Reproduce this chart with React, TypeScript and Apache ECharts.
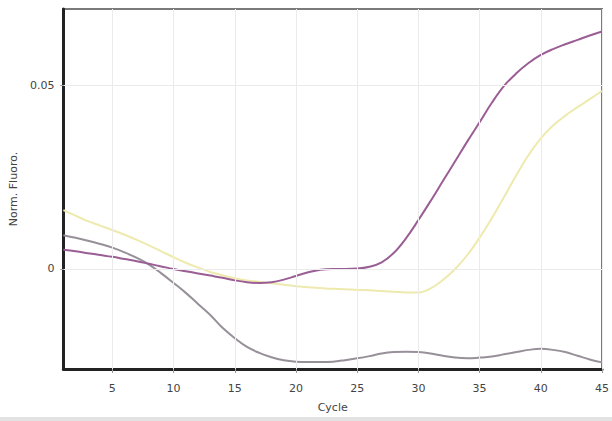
import React, { useEffect, useRef } from "react";
import * as echarts from "echarts";

const cycles: number[] = Array.from({ length: 45 }, (_, i) => i + 1);

const purpleSeries: number[] = [
  0.0052, 0.0048, 0.0043, 0.0038, 0.0033, 0.0027, 0.0021, 0.0014, 0.0007, 0.0,
  -0.0006, -0.0012, -0.0018, -0.0024, -0.0031, -0.0036, -0.0038, -0.0036, -0.0029, -0.0019,
  -0.0009, -0.0002, 0.0, 0.0, 0.0001, 0.0006, 0.0018, 0.0044, 0.0084, 0.0133,
  0.0185, 0.0239, 0.0293, 0.0347, 0.0399, 0.0452, 0.0498, 0.0532, 0.0560, 0.0582,
  0.0598, 0.0611, 0.0623, 0.0635, 0.0646,
];

const yellowSeries: number[] = [
  0.016, 0.0145, 0.013, 0.0118, 0.0106, 0.0093, 0.0079, 0.0064, 0.0048, 0.0032,
  0.0017, 0.0004, -0.0008, -0.0017, -0.0025, -0.0031, -0.0035, -0.0039, -0.0043, -0.0047,
  -0.005, -0.0052, -0.0054, -0.0055, -0.0057, -0.0058, -0.006, -0.0062, -0.0064, -0.0064,
  -0.0053, -0.003, 0.0, 0.0038, 0.0085, 0.0138, 0.0196, 0.0255, 0.031, 0.0355,
  0.039, 0.0417, 0.044, 0.0462, 0.0484,
];

const graySeries: number[] = [
  0.0092, 0.0085, 0.0077, 0.0068, 0.0058, 0.0045, 0.003, 0.0012, -0.0012, -0.0038,
  -0.0065, -0.0095, -0.0125, -0.016, -0.0188, -0.0212, -0.0228, -0.024, -0.0248, -0.0252,
  -0.0253, -0.0253, -0.0252, -0.0248, -0.0243, -0.0237, -0.023, -0.0226, -0.0225, -0.0226,
  -0.023, -0.0236, -0.0241, -0.0243, -0.0241, -0.0238, -0.0232, -0.0226, -0.022, -0.0217,
  -0.022, -0.0226, -0.0236, -0.0246, -0.0254,
];

const xTickValues: number[] = [5, 10, 15, 20, 25, 30, 35, 40, 45];
const yTickValues: number[] = [0, 0.05];
const yTickLabels: string[] = ["0", "0.05"];

export default function App() {
  const ref = useRef<HTMLDivElement>(null);

  useEffect(() => {
    if (!ref.current) return;
    const chart = echarts.init(ref.current, undefined, { renderer: "svg" });
    const pair = (ys: number[]) => cycles.map((c, i) => [c, ys[i]]);
    const font = "'DejaVu Sans', sans-serif";

    chart.setOption({
      animation: false,
      backgroundColor: "#ffffff",
      grid: {
        left: 61,
        right: 6,
        top: 9,
        bottom: 52,
        show: true,
        borderColor: "#7a7a7a",
        borderWidth: 2,
        backgroundColor: "#ffffff",
      },
      xAxis: {
        type: "value",
        min: 1,
        max: 45,
        name: "Cycle",
        nameLocation: "middle",
        nameGap: 33,
        nameTextStyle: { color: "#444", fontSize: 11, fontFamily: font },
        axisLine: { show: true, onZero: false, lineStyle: { color: "#222", width: 3 } },
        axisTick: {
          show: true,
          customValues: xTickValues,
          length: 4,
          lineStyle: { color: "#999" },
        },
        axisLabel: {
          customValues: xTickValues,
          margin: 14,
          color: "#444",
          fontSize: 11,
          fontFamily: font,
        },
        splitLine: { show: false },
      },
      yAxis: {
        type: "value",
        min: -0.0272,
        max: 0.0707,
        name: "Norm. Fluoro.",
        nameLocation: "middle",
        nameGap: 42,
        nameTextStyle: { color: "#444", fontSize: 11, fontFamily: font },
        axisLine: { show: true, onZero: false, lineStyle: { color: "#222", width: 3 } },
        axisTick: {
          show: true,
          customValues: yTickValues,
          length: 3,
          lineStyle: { color: "#999" },
        },
        axisLabel: {
          customValues: yTickValues,
          margin: 9,
          color: "#444",
          fontSize: 11,
          fontFamily: font,
          formatter: (v: number) => {
            const idx = yTickValues.findIndex((t) => Math.abs(t - v) < 1e-9);
            return idx >= 0 ? yTickLabels[idx] : "";
          },
        },
        splitLine: { show: false },
      },
      graphic: [
        {
          type: "rect",
          shape: { x: 0, y: 417, width: 612, height: 4 },
          style: { fill: "#e2e2e2" },
          silent: true,
        },
      ],
      series: [
        {
          type: "line",
          data: [],
          silent: true,
          z: 1,
          markLine: {
            silent: true,
            symbol: "none",
            label: { show: false },
            lineStyle: { color: "#ebebeb", width: 1, type: "solid" },
            data: [
              ...xTickValues.map((v) => ({ xAxis: v })),
              ...yTickValues.map((v) => ({ yAxis: v })),
            ],
          },
        },
        {
          type: "line",
          data: pair(graySeries),
          smooth: 0.4,
          showSymbol: false,
          z: 3,
          lineStyle: { color: "#979099", width: 2 },
        },
        {
          type: "line",
          data: pair(yellowSeries),
          smooth: 0.4,
          showSymbol: false,
          z: 3,
          lineStyle: { color: "#eeeaae", width: 2 },
        },
        {
          type: "line",
          data: pair(purpleSeries),
          smooth: 0.4,
          showSymbol: false,
          z: 4,
          lineStyle: { color: "#9a5e95", width: 2 },
        },
      ],
    });
    return () => chart.dispose();
  }, []);

  return (
    <div
      ref={ref}
      style={{ position: "fixed", left: 0, top: 0, width: 612, height: 421 }}
    />
  );
}
